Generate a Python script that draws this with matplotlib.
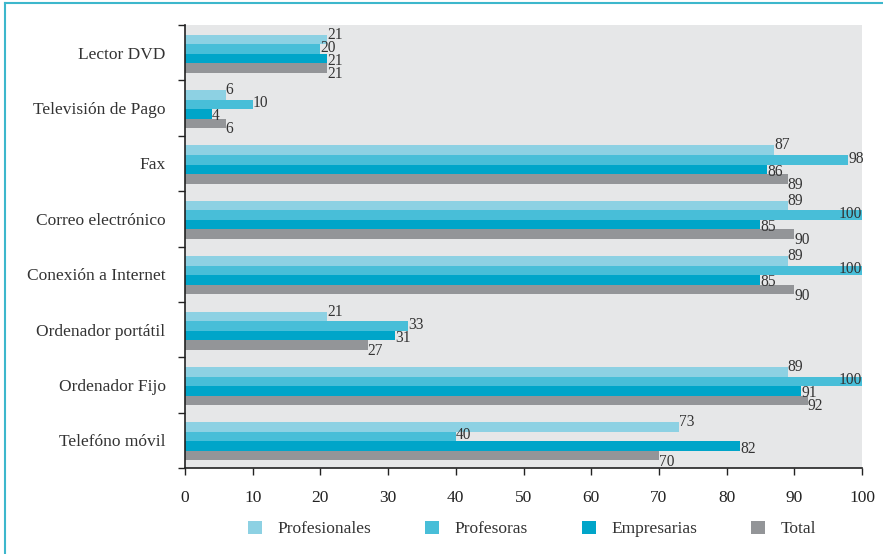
import matplotlib
matplotlib.use("Agg")
import matplotlib.pyplot as plt
from matplotlib.lines import Line2D
from matplotlib.patches import Patch
import numpy as np

categories = ["Lector DVD", "Televisión de Pago", "Fax", "Correo electrónico",
              "Conexión a Internet", "Ordenador portátil", "Ordenador Fijo", "Telefóno móvil"]
series_names = ["Profesionales", "Profesoras", "Empresarias", "Total"]
profesionales = [21, 6, 87, 89, 89, 21, 89, 73]
profesoras = [20, 10, 98, 100, 100, 33, 100, 40]
empresarias = [21, 4, 86, 85, 85, 31, 91, 82]
total = [21, 6, 89, 90, 90, 27, 92, 70]
xticks = [0, 10, 20, 30, 40, 50, 60, 70, 80, 90, 100]

colors = ["#8DD1E3", "#48BED8", "#00A5C9", "#939598"]
series = [profesionales, profesoras, empresarias, total]

plt.rcParams['font.family'] = ['Liberation Serif', 'DejaVu Serif']

fig = plt.figure(figsize=(8.83, 5.54), dpi=100)
ax = fig.add_axes([185/883, 1-468/554, (862-185)/883, (468-25)/554])
ax.set_facecolor("#E6E7E8")

n = len(categories)
y = np.arange(n)
h = 0.172
for j, (vals, c) in enumerate(zip(series, colors)):
    pos = y + (j - 1.5) * h + 0.02
    ax.barh(pos, vals, height=h, color=c, edgecolor='none', zorder=2)
    for yi, v in zip(pos, vals):
        ly = yi + (j - 1.5) * 0.065 + 0.01
        if v >= 100:
            ax.text(v, ly, str(v), ha='right', va='center', fontsize=11.2, color='#333333', zorder=3)
        else:
            ax.text(v, ly, str(v), ha='left', va='center', fontsize=11.2, color='#333333', zorder=3)

ax.set_xlim(0, 100)
ax.set_ylim(n - 0.5, -0.5)
ax.set_xticks(xticks)
ax.set_xticklabels([str(t) for t in xticks], fontsize=12.5, color='#333333')
ax.tick_params(axis='x', direction='out', length=5, width=1, pad=11, colors='#222222')
ax.set_yticks(y)
ax.set_yticklabels(categories, fontsize=12.5, color='#333333')
ax.tick_params(axis='y', which='major', length=0, pad=14)
ax.set_yticks(np.arange(-0.5, n + 0.5, 1), minor=True)
ax.tick_params(axis='y', which='minor', direction='out', length=5, width=1, colors='#222222')
for s in ['top', 'right']:
    ax.spines[s].set_visible(False)
for s in ['left', 'bottom']:
    ax.spines[s].set_color('#222222')
    ax.spines[s].set_linewidth(1.2)

handles = [Patch(facecolor=c, edgecolor='none') for c in colors]
leg = fig.legend(handles, series_names, loc='center', bbox_to_anchor=(532/883, 1-529/554),
                 ncol=4, frameon=False, fontsize=12.5, handlelength=0.8, handleheight=0.8,
                 handletextpad=0.9, columnspacing=3.1)
for t in leg.get_texts():
    t.set_color('#333333')

border = "#3DB7CC"
fig.add_artist(Line2D([5/883, 1.0], [1-3/554, 1-3/554], color=border, lw=1.5, transform=fig.transFigure))
fig.add_artist(Line2D([5/883, 5/883], [0, 1-3/554], color=border, lw=1.5, transform=fig.transFigure))

fig.savefig("out.png", dpi=100)
